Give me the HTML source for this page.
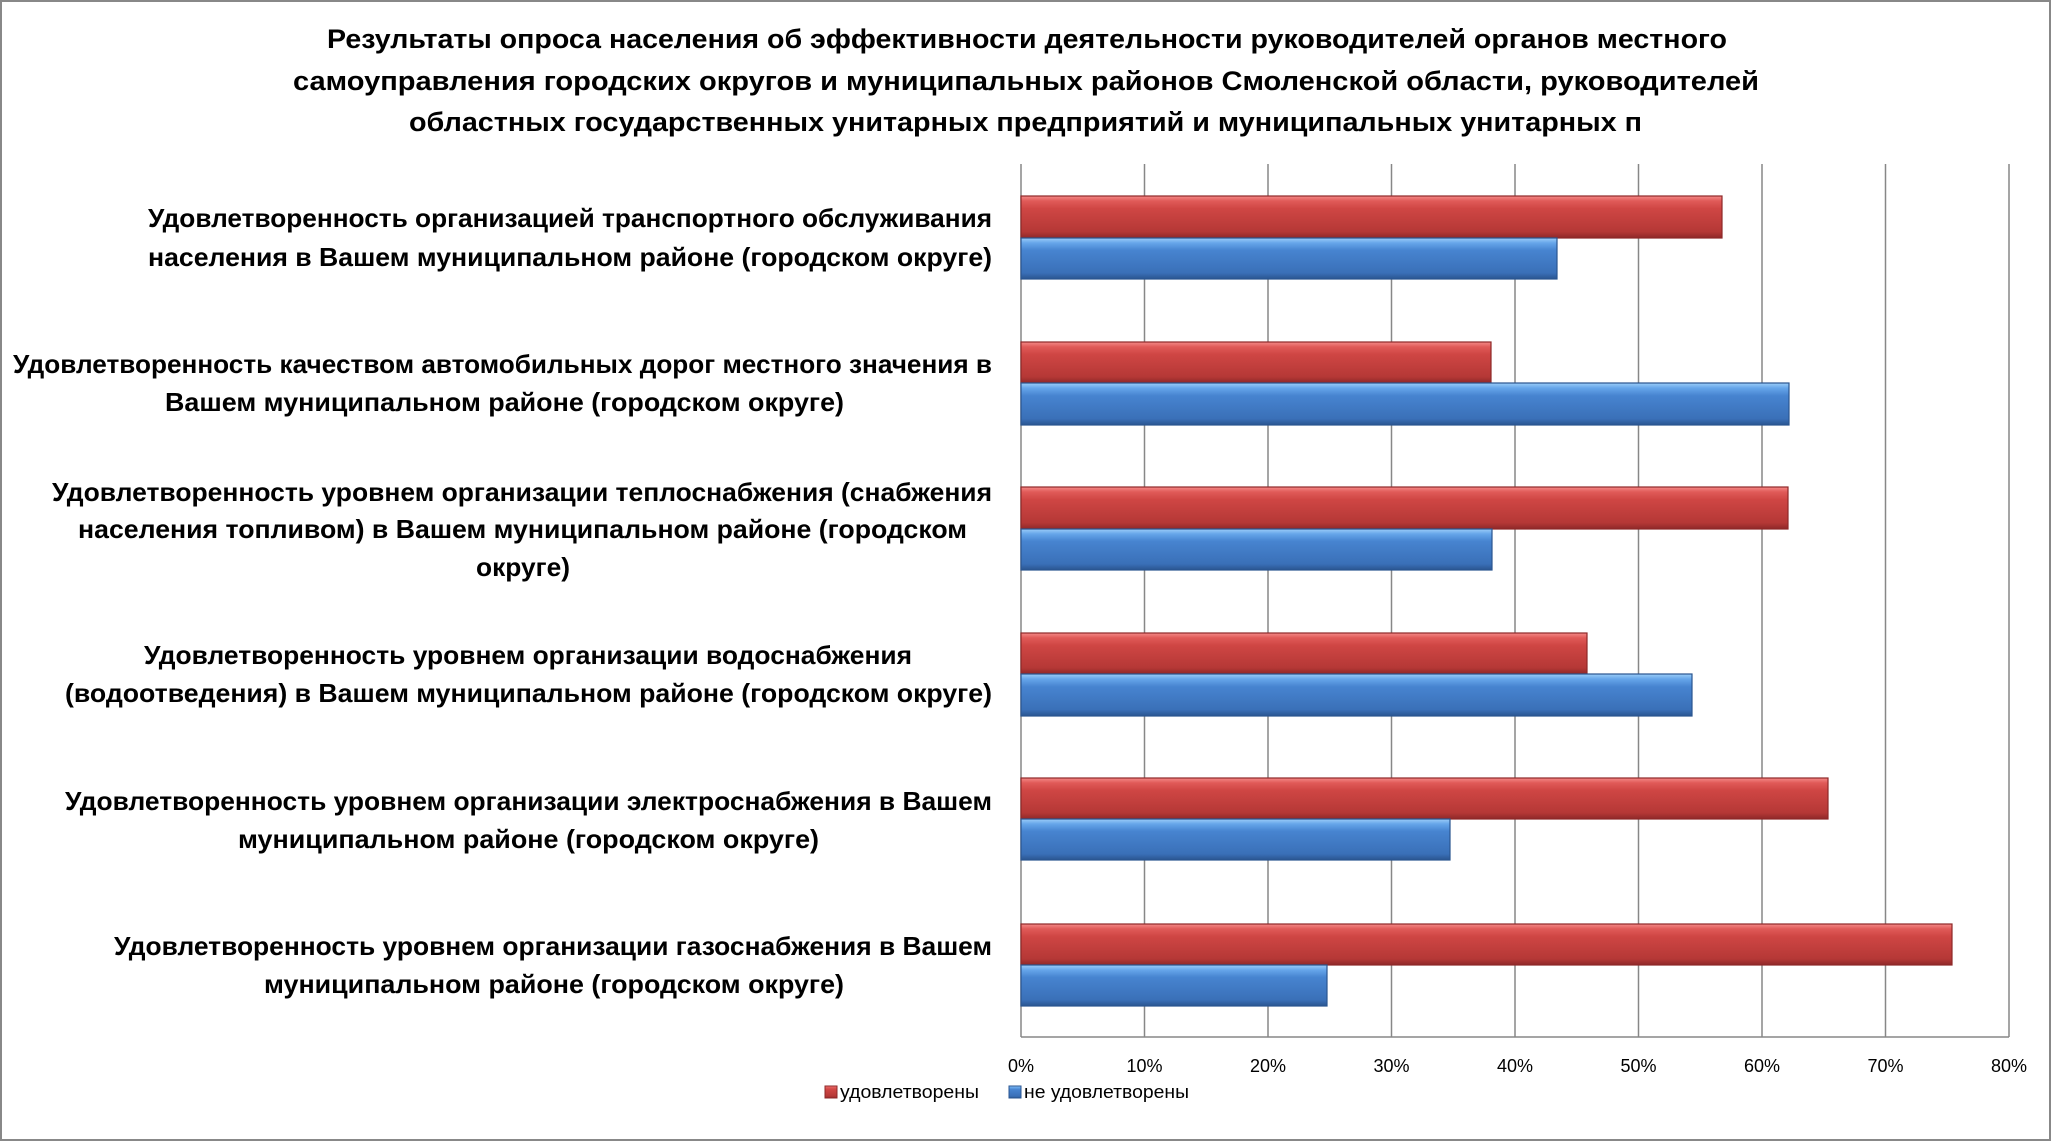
<!DOCTYPE html>
<html><head><meta charset="utf-8"><style>
html,body{margin:0;padding:0;background:#fff}
svg{display:block}
text{font-family:"Liberation Sans",sans-serif}
</style></head><body>
<svg width="2051" height="1141" viewBox="0 0 2051 1141" xmlns="http://www.w3.org/2000/svg">
<defs>
<linearGradient id="r" x1="0" y1="0" x2="0" y2="1">
<stop offset="0" stop-color="#f58a88"/><stop offset="0.12" stop-color="#e05a58"/><stop offset="0.3" stop-color="#cf4644"/><stop offset="0.85" stop-color="#b53836"/><stop offset="1" stop-color="#8e2828"/>
</linearGradient>
<linearGradient id="b" x1="0" y1="0" x2="0" y2="1">
<stop offset="0" stop-color="#9ccdf8"/><stop offset="0.12" stop-color="#66a6ea"/><stop offset="0.3" stop-color="#4784d0"/><stop offset="0.85" stop-color="#3a70b8"/><stop offset="1" stop-color="#2a5590"/>
</linearGradient>
</defs>
<rect x="1" y="1" width="2049" height="1139" fill="#fff" stroke="#888" stroke-width="2"/>
<g font-weight="bold" font-size="27" fill="#000" text-anchor="start">
<text x="327" y="48" textLength="1400" lengthAdjust="spacingAndGlyphs">Результаты опроса населения об эффективности деятельности руководителей органов местного</text>
<text x="293" y="90" textLength="1466" lengthAdjust="spacingAndGlyphs">самоуправления городских округов и муниципальных районов Смоленской области, руководителей</text>
<text x="409" y="131" textLength="1233" lengthAdjust="spacingAndGlyphs">областных государственных унитарных предприятий и муниципальных унитарных п</text>
</g>
<g stroke="#878787" stroke-width="1.5">
<line x1="1021" y1="164" x2="1021" y2="1037"/>
<line x1="1144.5" y1="164" x2="1144.5" y2="1037"/>
<line x1="1268" y1="164" x2="1268" y2="1037"/>
<line x1="1391.5" y1="164" x2="1391.5" y2="1037"/>
<line x1="1515" y1="164" x2="1515" y2="1037"/>
<line x1="1638.5" y1="164" x2="1638.5" y2="1037"/>
<line x1="1762" y1="164" x2="1762" y2="1037"/>
<line x1="1885.5" y1="164" x2="1885.5" y2="1037"/>
<line x1="2009" y1="164" x2="2009" y2="1037"/>
<line x1="1021" y1="1037" x2="2009" y2="1037"/>
</g>
<g stroke-width="1.2">
<rect x="1021" y="196" width="701" height="42" fill="url(#r)" stroke="#8e2828"/>
<rect x="1021" y="238" width="536" height="41" fill="url(#b)" stroke="#2a5590"/>
<rect x="1021" y="342" width="470" height="41" fill="url(#r)" stroke="#8e2828"/>
<rect x="1021" y="383" width="768" height="42" fill="url(#b)" stroke="#2a5590"/>
<rect x="1021" y="487" width="767" height="42" fill="url(#r)" stroke="#8e2828"/>
<rect x="1021" y="529" width="471" height="41" fill="url(#b)" stroke="#2a5590"/>
<rect x="1021" y="633" width="566" height="41" fill="url(#r)" stroke="#8e2828"/>
<rect x="1021" y="674" width="671" height="42" fill="url(#b)" stroke="#2a5590"/>
<rect x="1021" y="778" width="807" height="41" fill="url(#r)" stroke="#8e2828"/>
<rect x="1021" y="819" width="429" height="41" fill="url(#b)" stroke="#2a5590"/>
<rect x="1021" y="924" width="931" height="41" fill="url(#r)" stroke="#8e2828"/>
<rect x="1021" y="965" width="306" height="41" fill="url(#b)" stroke="#2a5590"/>
</g>
<g font-weight="bold" font-size="26" fill="#000">
<text x="148" y="227" textLength="844" lengthAdjust="spacingAndGlyphs">Удовлетворенность организацией транспортного обслуживания</text>
<text x="148" y="266" textLength="844" lengthAdjust="spacingAndGlyphs">населения в Вашем муниципальном районе (городском округе)</text>
<text x="13" y="373" textLength="979" lengthAdjust="spacingAndGlyphs">Удовлетворенность качеством автомобильных дорог местного значения в</text>
<text x="165" y="411" textLength="679" lengthAdjust="spacingAndGlyphs">Вашем муниципальном районе (городском округе)</text>
<text x="52" y="501" textLength="940" lengthAdjust="spacingAndGlyphs">Удовлетворенность уровнем организации теплоснабжения (снабжения</text>
<text x="78" y="538" textLength="889" lengthAdjust="spacingAndGlyphs">населения топливом) в Вашем муниципальном районе (городском</text>
<text x="476" y="576" textLength="94" lengthAdjust="spacingAndGlyphs">округе)</text>
<text x="144" y="664" textLength="768" lengthAdjust="spacingAndGlyphs">Удовлетворенность уровнем организации водоснабжения</text>
<text x="65" y="702" textLength="927" lengthAdjust="spacingAndGlyphs">(водоотведения) в Вашем муниципальном районе (городском округе)</text>
<text x="65" y="810" textLength="927" lengthAdjust="spacingAndGlyphs">Удовлетворенность уровнем организации электроснабжения в Вашем</text>
<text x="238" y="848" textLength="581" lengthAdjust="spacingAndGlyphs">муниципальном районе (городском округе)</text>
<text x="114" y="955" textLength="878" lengthAdjust="spacingAndGlyphs">Удовлетворенность уровнем организации газоснабжения в Вашем</text>
<text x="264" y="993" textLength="580" lengthAdjust="spacingAndGlyphs">муниципальном районе (городском округе)</text>
</g>
<g font-size="18" fill="#000" text-anchor="middle">
<text x="1021" y="1072">0%</text>
<text x="1144.5" y="1072">10%</text>
<text x="1268" y="1072">20%</text>
<text x="1391.5" y="1072">30%</text>
<text x="1515" y="1072">40%</text>
<text x="1638.5" y="1072">50%</text>
<text x="1762" y="1072">60%</text>
<text x="1885.5" y="1072">70%</text>
<text x="2009" y="1072">80%</text>
</g>
<rect x="825" y="1086" width="12" height="12" fill="url(#r)" stroke="#8e2828"/>
<text x="840" y="1098" font-size="18" textLength="139" lengthAdjust="spacingAndGlyphs">удовлетворены</text>
<rect x="1009" y="1086" width="12" height="12" fill="url(#b)" stroke="#2a5590"/>
<text x="1024" y="1098" font-size="18" textLength="165" lengthAdjust="spacingAndGlyphs">не удовлетворены</text>
</svg>
</body></html>
